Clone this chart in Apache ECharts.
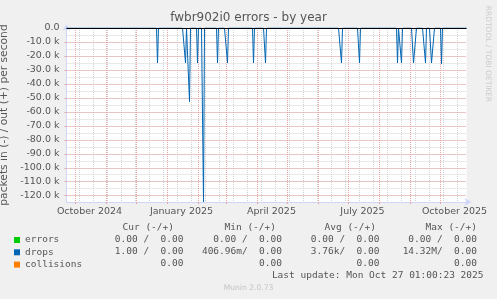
<!DOCTYPE html>
<html><head><meta charset="utf-8">
<script src="https://cdn.jsdelivr.net/npm/echarts@6/dist/echarts.min.js"></script>
<style>html,body{margin:0;padding:0;background:#f0f0f0;}#c{width:497px;height:299px;}</style>
</head><body><div id="c"></div>
<script>
// ---- data ----
const startDate = '2024-09-22';
const endDate = '2025-10-27';
const spikeDates = ['2024-12-22','2025-01-19','2025-01-23','2025-01-31','2025-02-06','2025-02-20','2025-03-02',
  '2025-03-28','2025-04-09','2025-06-24','2025-07-12','2025-08-19','2025-08-23',
  '2025-09-04','2025-09-05','2025-09-06','2025-09-16','2025-09-22','2025-09-23','2025-09-24','2025-10-02'];
const dropsIn = [-25000,-25000,-52700,-25000,-124500,-25000,-25000,
  -25000,-25000,-25000,-25000,-25000,-25000,
  -25000,-25000,-25000,-25000,-25000,-25000,-25000,-25700];
const errorsIn = [];
const collisionsIn = [];
const monthNames = ['January','February','March','April','May','June','July','August','September','October','November','December'];
const labelMonths = ['01','04','07','10'];
const statHeaders = ['Cur (-/+)','Min (-/+)','Avg (-/+)','Max (-/+)'];
const errorsStats = ['0.00 /  0.00','0.00 /  0.00','0.00 /  0.00','0.00 /  0.00'];
const dropsStats = ['1.00 /  0.00','406.96m/  0.00','3.76k/  0.00','14.32M/  0.00'];
const collisionsStats = ['0.00','0.00','0.00','0.00'];
const lastUpdate = 'Last update: Mon Oct 27 01:00:23 2025';

// ---- build categories (one per day) ----
const days = [];
const t0 = Date.parse(startDate + 'T00:00:00Z'), t1 = Date.parse(endDate + 'T00:00:00Z');
for (let t = t0; t <= t1; t += 86400000) days.push(new Date(t).toISOString().slice(0, 10));
const dropsSeries = days.map(d => { const i = spikeDates.indexOf(d); return i >= 0 ? dropsIn[i] : 0; });

const FONT = '#555';
const RED = '#e9a3a3';
const GRAY = '#d2d2d2';
const AXIS = '#cfd6f8';
const isMonthStart = (i, v) => v.slice(8) === '01';

const colHeaderX = [174, 276, 376, 477];
const colX = [183.5, 282, 379.5, 477];
const rowY = [240, 252, 264];
const graphic = [];
const mono = '9.5px "DejaVu Sans Mono"';
function txt(s, x, y, align, font, fill, extra) {
  return Object.assign({ type: 'text', x: x, y: y, silent: true,
    style: { text: s, font: font, fill: fill, textAlign: align, align: align, textVerticalAlign: 'middle', verticalAlign: 'middle' } }, extra || {});
}
statHeaders.forEach((h, i) => graphic.push(txt(h, colHeaderX[i], 228, 'right', mono, FONT)));
[errorsStats, dropsStats, collisionsStats].forEach((row, r) => row.forEach((s, i) => graphic.push(txt(s, colX[i], rowY[r], 'right', mono, FONT))));
graphic.push(txt(lastUpdate, 483.5, 276, 'right', mono, FONT));
graphic.push(txt('Munin 2.0.73', 248.5, 288, 'center', '7.6px "DejaVu Sans"', '#c4c4c4'));
graphic.push(txt('RRDTOOL / TOBI OETIKER', 488, 54, 'center', '7.5px "DejaVu Sans"', '#cccccc', { rotation: -Math.PI / 2 }));

const chart = echarts.init(document.getElementById('c'), null, { renderer: 'canvas' });
chart.setOption({
  animation: false,
  backgroundColor: '#f0f0f0',
  title: { text: 'fwbr902i0 errors - by year', left: 'center', top: 12, padding: 0,
    textStyle: { fontFamily: 'DejaVu Sans', fontSize: 12, fontWeight: 'normal', color: FONT } },
  legend: { orient: 'vertical', left: 14, top: 235, padding: 0, itemWidth: 6, itemHeight: 6, itemGap: 2.3,
    icon: 'rect', selectedMode: false,
    textStyle: { fontFamily: 'DejaVu Sans Mono', fontSize: 9.5, color: FONT, padding: [0, 0, 0, 0] },
    data: ['errors', 'drops', 'collisions'] },
  grid: { left: 66.5, right: 30.5, top: 28, bottom: 97, containLabel: false, outerBoundsMode: 'none',
    backgroundColor: '#fff', show: true, borderWidth: 0 },
  xAxis: [{
    type: 'category', data: days, boundaryGap: false,
    axisLine: { onZero: false, lineStyle: { color: AXIS, width: 1 }, symbol: ['none', 'arrow'], symbolSize: [6, 7], symbolOffset: [0, 5] },
    axisTick: { show: true, interval: isMonthStart, length: 2, lineStyle: { color: RED } },
    splitLine: { show: true, interval: isMonthStart, lineStyle: { color: RED, type: [1, 1], width: 1 } },
    axisLabel: { interval: (i, v) => v.slice(8) === '15' && labelMonths.includes(v.slice(5, 7)),
      formatter: v => monthNames[+v.slice(5, 7) - 1] + ' ' + v.slice(0, 4),
      color: FONT, fontFamily: 'DejaVu Sans', fontSize: 9.5, margin: 5 },
    z: 1
  }, {
    type: 'category', data: days, boundaryGap: false, position: 'top',
    axisLine: { show: false }, axisTick: { show: false }, axisLabel: { show: false },
    splitLine: { show: true, interval: (i, v) => i % 14 === 13, lineStyle: { color: GRAY, type: [1, 1], width: 1 } },
    z: 0
  }],
  yAxis: [{
    type: 'value', min: -124500, max: 0, splitNumber: 12, position: 'left',
    axisLine: { show: true, lineStyle: { color: AXIS, width: 1 }, symbol: ['none', 'arrow'], symbolSize: [6, 6], symbolOffset: [0, 3.5] },
    axisTick: { show: true, length: 2, lineStyle: { color: RED } },
    splitLine: { show: true, showMinLine: false, lineStyle: { color: RED, type: [1, 1], width: 1 } },
    axisLabel: { showMinLabel: false, formatter: v => v === 0 ? '0.0' : (v / 1000).toFixed(1) + ' k',
      color: FONT, fontFamily: 'DejaVu Sans', fontSize: 9.5, margin: 7 },
    name: 'packets in (-) / out (+) per second', nameLocation: 'middle', nameRotate: 90, nameGap: 51,
    nameTextStyle: { color: FONT, fontFamily: 'DejaVu Sans', fontSize: 10.7 },
    z: 1
  }, {
    type: 'value', min: -124500, max: 0, splitNumber: 24, position: 'left',
    axisLine: { show: false }, axisLabel: { show: false },
    axisTick: { show: false },
    splitLine: { show: true, showMinLine: false, lineStyle: { color: GRAY, type: [1, 1], width: 1 } },
    z: 0
  }],
  series: [
    { name: 'errors', type: 'line', color: '#00cc00', data: errorsIn, symbol: 'none' },
    { name: 'drops', type: 'line', color: '#0066b3', data: dropsSeries, symbol: 'none', z: 3,
      lineStyle: { width: 1 },
      markLine: { silent: true, symbol: ['none', 'none'], label: { show: false },
        lineStyle: { color: '#000', width: 1, type: 'solid' }, data: [{ yAxis: 0 }] } },
    { name: 'collisions', type: 'line', color: '#ff8000', data: collisionsIn, symbol: 'none' }
  ],
  graphic: graphic
});
</script></body></html>
